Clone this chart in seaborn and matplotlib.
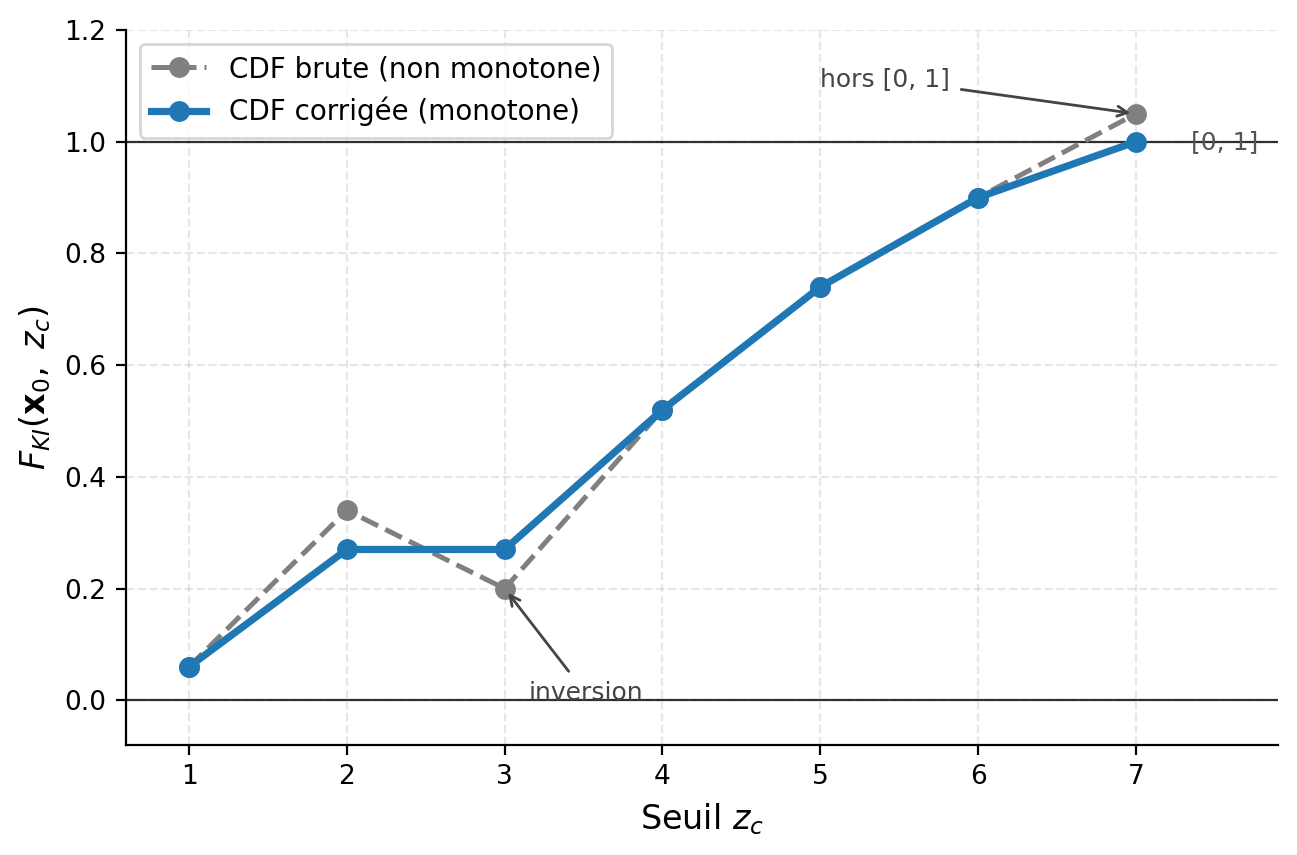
import numpy as np
import pandas as pd
import matplotlib
matplotlib.use("Agg")
import matplotlib.pyplot as plt
import seaborn as sns

# seuils et valeurs de la CDF
seuils = [1, 2, 3, 4, 5, 6, 7]
cdf_brute = [0.06, 0.34, 0.20, 0.52, 0.74, 0.90, 1.05]
cdf_corrigee = [0.06, 0.27, 0.27, 0.52, 0.74, 0.90, 1.00]

df = pd.DataFrame({"zc": seuils, "brute": cdf_brute, "corrigee": cdf_corrigee})

plt.rcParams["font.family"] = ["DejaVu Sans"]

fig, ax = plt.subplots(figsize=(6.485, 4.275), dpi=200)
fig.subplots_adjust(left=0.0971, right=0.9853, top=0.9649, bottom=0.1287)

ax.grid(True, linestyle="--", alpha=0.3)
ax.axhline(0, color="k", lw=0.8, alpha=0.8)
ax.axhline(1, color="k", lw=0.8, alpha=0.8)

sns.lineplot(data=df, x="zc", y="brute", ax=ax, color="gray", linestyle="--",
             lw=1.8, marker="o", markersize=7.5, markeredgewidth=0,
             label="CDF brute (non monotone)")
sns.lineplot(data=df, x="zc", y="corrigee", ax=ax, color="#1f77b4", lw=2.6,
             marker="o", markersize=7.5, markeredgewidth=0,
             label="CDF corrigée (monotone)")

ax.annotate("hors [0, 1]", xy=(7, 1.05), xytext=(5, 1.1), fontsize=9,
            color="#444444",
            arrowprops=dict(arrowstyle="->", color="#444444", lw=1))
ax.annotate("inversion", xy=(3, 0.2), xytext=(3.15, 0.0), fontsize=9,
            color="#444444",
            arrowprops=dict(arrowstyle="->", color="#444444", lw=1))
ax.text(7.35, 1.0, "[0, 1]", va="center", fontsize=9, color="#555555")

ax.set_xlim(0.6, 7.9)
ax.set_ylim(-0.08, 1.2)
ax.set_xticks(seuils)
ax.tick_params(labelsize=9.5)
ax.set_xlabel("Seuil $z_c$", fontsize=12)
ax.set_ylabel(r"$F_{KI}(\mathbf{x}_0,\ z_c)$", fontsize=12)
sns.despine(ax=ax)
ax.legend(loc="upper left", fontsize=10)

plt.savefig("out.png", dpi=200)
